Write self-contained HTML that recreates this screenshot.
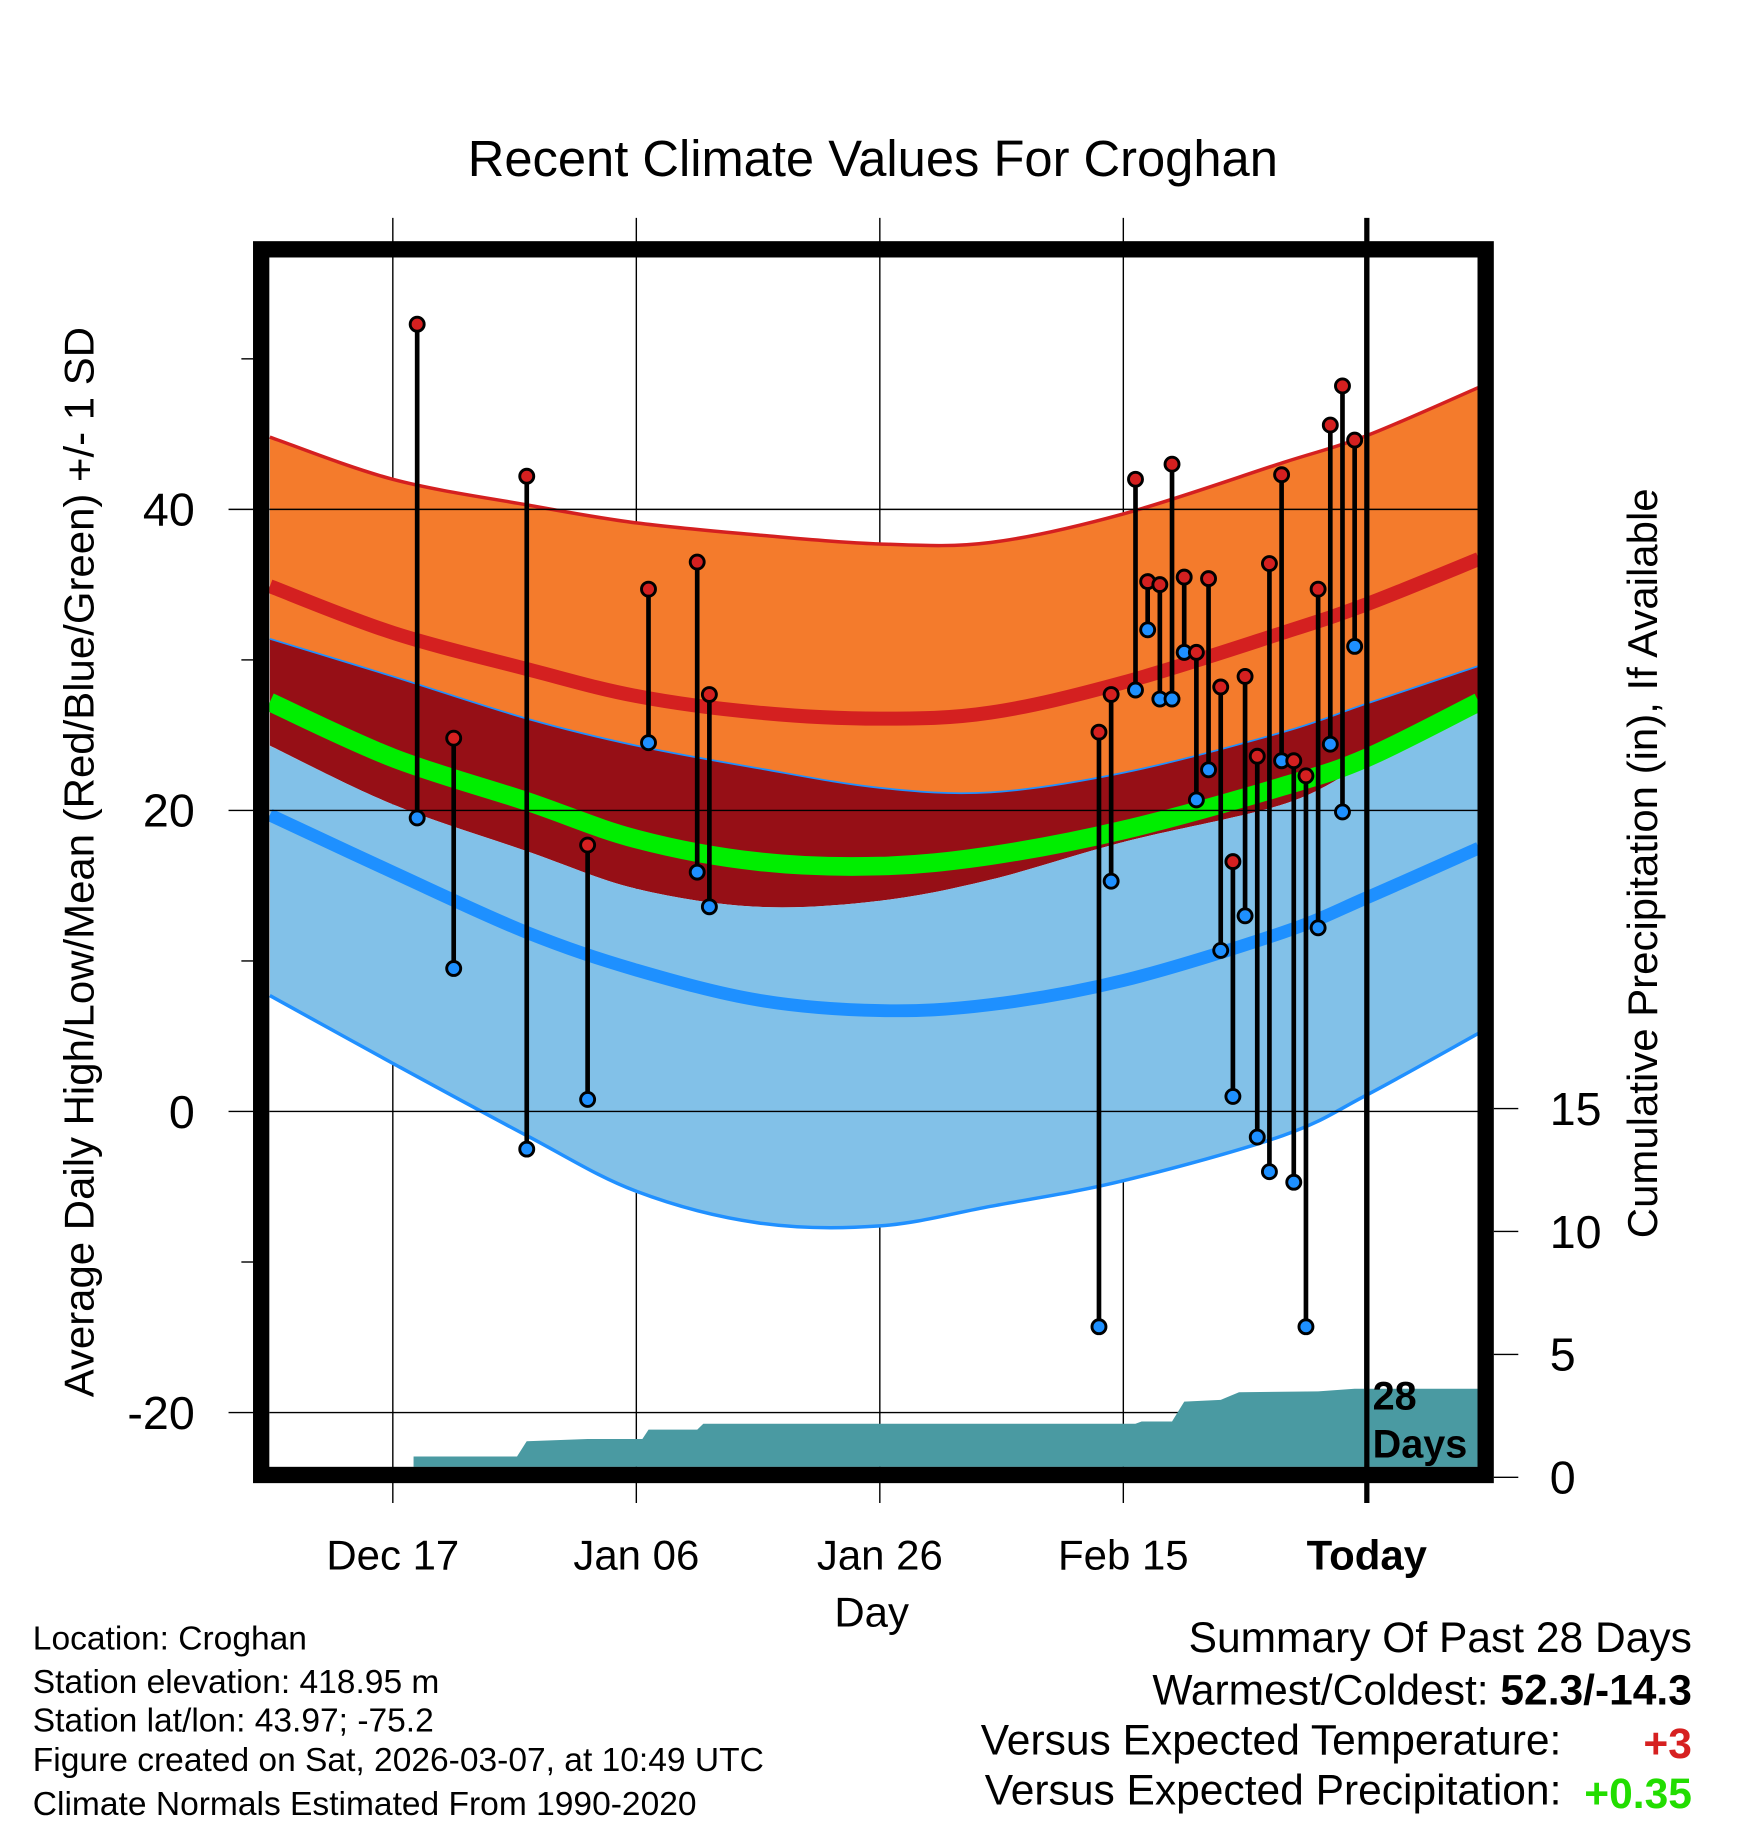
<!DOCTYPE html>
<html><head><meta charset="utf-8"><style>
html,body{margin:0;padding:0;background:#fff;}
svg{display:block;font-family:"Liberation Sans",sans-serif;}
</style></head><body>
<svg id="chart" width="1748" height="1828" viewBox="0 0 1500 1569" xmlns="http://www.w3.org/2000/svg">
<defs><clipPath id="plotclip"><rect x="231" y="221" width="1037" height="1038"/></clipPath></defs>
<text x="749" y="151" font-size="43.5" text-anchor="middle">Recent Climate Values For Croghan</text>
<g id="gridlayer"></g>
<g id="bandlayer" clip-path="url(#plotclip)"></g>
<g id="marklayer"></g>
<rect x="224" y="214" width="1051" height="1052" fill="none" stroke="#000" stroke-width="14"/>
<g id="axislayer"></g>
<text x="748" y="1396" font-size="36" text-anchor="middle">Day</text>
<text transform="translate(80,740) rotate(-90)" font-size="36" text-anchor="middle">Average Daily High/Low/Mean (Red/Blue/Green) +/- 1 SD</text>
<text transform="translate(1422,741) rotate(-90)" font-size="36" text-anchor="middle">Cumulative Precipitation (in), If Available</text>
<text x="1178" y="1210" font-size="34" font-weight="bold">28</text>
<text x="1178" y="1251" font-size="34" font-weight="bold">Days</text>
<g font-size="28.8">
<text x="28" y="1416">Location: Croghan</text>
<text x="28" y="1453">Station elevation: 418.95 m</text>
<text x="28" y="1486">Station lat/lon: 43.97; -75.2</text>
<text x="28" y="1520">Figure created on Sat, 2026-03-07, at 10:49 UTC</text>
<text x="28" y="1558">Climate Normals Estimated From 1990-2020</text>
</g>
<g font-size="36.5">
<text x="1452" y="1418" text-anchor="end">Summary Of Past 28 Days</text>
<text x="1452" y="1463" text-anchor="end">Warmest/Coldest: <tspan font-weight="bold">52.3/-14.3</tspan></text>
<text x="1340" y="1506" text-anchor="end">Versus Expected Temperature:</text>
<text x="1452" y="1509" text-anchor="end" font-weight="bold" fill="#d62020">+3</text>
<text x="1340" y="1549" text-anchor="end">Versus Expected Precipitation:</text>
<text x="1452" y="1552" text-anchor="end" font-weight="bold" fill="#22dd00">+0.35</text>
</g>
</svg>
<script>
// ---- data ----
const normDays = [-10.1, 0, 11, 20, 30, 40, 49.1, 60, 73.1, 80, 89.2];
const hiUpper = [44.8, 42.0, 40.3, 39.1, 38.3, 37.7, 37.8, 39.7, 43.1, 44.9, 48.1];
const hiMean  = [34.9, 31.8, 29.4, 27.6, 26.5, 26.1, 26.5, 28.5, 31.8, 33.7, 36.7];
const hiLower = [31.4, 28.9, 26.1, 24.3, 22.8, 21.5, 21.2, 22.5, 25.2, 27.1, 29.6];
const meanT   = [27.2, 23.5, 20.6, 18.1, 16.6, 16.3, 17.0, 18.7, 21.6, 23.5, 27.2];
const loUpper = [24.3, 20.4, 17.3, 14.8, 13.6, 14.0, 15.4, 17.9, 20.4, 23.1, 26.5];
const loMean  = [19.7, 15.9, 11.9, 9.4, 7.4, 6.7, 7.1, 8.7, 11.9, 14.2, 17.5];
const loLower = [7.7, 3.2, -1.6, -5.3, -7.4, -7.6, -6.3, -4.6, -1.6, 1.1, 5.2];
const obsDays = [2, 5, 11, 16, 21, 25, 26, 58, 59, 61, 62, 63, 64, 65, 66, 67, 68, 69, 70, 71, 72, 73, 74, 75, 76, 77, 78, 79];
const obsHigh = [52.3, 24.8, 42.2, 17.7, 34.7, 36.5, 27.7, 25.2, 27.7, 42.0, 35.2, 35.0, 43.0, 35.5, 30.5, 35.4, 28.2, 16.6, 28.9, 23.6, 36.4, 42.3, 23.3, 22.3, 34.7, 45.6, 48.2, 44.6];
const obsLow  = [19.5, 9.5, -2.5, 0.8, 24.5, 15.9, 13.6, -14.3, 15.3, 28.0, 32.0, 27.4, 27.4, 30.5, 20.7, 22.7, 10.7, 1.0, 13.0, -1.7, -4.0, 23.3, -4.7, -14.3, 12.2, 24.4, 19.9, 30.9];
const precipDays = [1.7, 10.2, 11, 16, 20.5, 21, 25, 25.5, 61, 61.5, 64, 65, 68, 69.5, 76, 79, 89.2];
const precipVals = [0.85, 0.85, 1.47, 1.56, 1.56, 1.94, 1.94, 2.18, 2.18, 2.27, 2.27, 3.08, 3.15, 3.46, 3.5, 3.6, 3.6];
const xTickDays = [0, 20, 40, 60, 80];
const xTickLabels = ["Dec 17", "Jan 06", "Jan 26", "Feb 15", "Today"];
const yTicks = [40, 20, 0, -20];
const yMinor = [50, 30, 10, -10];
const y2Ticks = [0, 5, 10, 15];
const todayDay = 80;

// ---- scales ----
const X = d => 337 + 10.45 * d;
const Y = t => 954 - 12.92 * t;
const Y2 = p => 1268 - 21.1 * p;
const NS = "http://www.w3.org/2000/svg";
function mk(tag, parent, attrs) {
  const e = document.createElementNS(NS, tag);
  for (const k in attrs) e.setAttribute(k, attrs[k]);
  parent.appendChild(e); return e;
}
const grid = document.getElementById('gridlayer');
const bands = document.getElementById('bandlayer');
const marks = document.getElementById('marklayer');
const axis = document.getElementById('axislayer');

function pts(arr) { return normDays.map((d, i) => [X(d), Y(arr[i])]); }
// Catmull-Rom smooth path segment (without initial M)
function smooth(p) {
  let s = '';
  for (let i = 0; i < p.length - 1; i++) {
    const p0 = p[Math.max(0, i - 1)], p1 = p[i], p2 = p[i + 1], p3 = p[Math.min(p.length - 1, i + 2)];
    const c1 = [p1[0] + (p2[0] - p0[0]) / 6, p1[1] + (p2[1] - p0[1]) / 6];
    const c2 = [p2[0] - (p3[0] - p1[0]) / 6, p2[1] - (p3[1] - p1[1]) / 6];
    s += ' C' + c1[0].toFixed(1) + ',' + c1[1].toFixed(1) + ' ' + c2[0].toFixed(1) + ',' + c2[1].toFixed(1) + ' ' + p2[0].toFixed(1) + ',' + p2[1].toFixed(1);
  }
  return s;
}
function band(top, bot, fill, name) {
  const a = pts(top), b = pts(bot).reverse();
  const d = 'M' + a[0][0] + ',' + a[0][1] + smooth(a) + ' L' + b[0][0] + ',' + b[0][1] + smooth(b) + ' Z';
  const e = mk('path', bands, {d: d, fill: fill});
  
  
}
function line(arr, stroke, w, name) {
  const a = pts(arr);
  const e = mk('path', bands, {d: 'M' + a[0][0] + ',' + a[0][1] + smooth(a), fill: 'none', stroke: stroke, 'stroke-width': w});
  
  
}
band(hiUpper, hiLower, '#f47b2c', 'high-sd-band');
band(hiLower, loUpper, '#960f16', 'mid-band');
band(loUpper, loLower, '#82c1e8', 'low-sd-band');
line(hiUpper, '#d42020', 3, 'high-upper-line');
line(hiLower, '#2090ff', 1.5, 'high-lower-line');
line(loLower, '#2090ff', 3, 'low-lower-line');
line(hiMean, '#d42020', 12, 'mean-high-line');
line(meanT, '#00ee00', 16, 'mean-line');
line(loMean, '#1e90ff', 11, 'mean-low-line');

yTicks.forEach(t => {
  const e = mk('line', bands, {x1: 231, x2: 1268, y1: Y(t), y2: Y(t), stroke: '#000', 'stroke-width': 1.2});
  
  
});

{
  let d = 'M' + X(precipDays[0]) + ',1270';
  precipDays.forEach((dd, i) => { d += ' L' + X(dd).toFixed(1) + ',' + Y2(precipVals[i]).toFixed(1); });
  d += ' L' + X(precipDays[precipDays.length - 1]).toFixed(1) + ',1270 Z';
  const e = mk('path', bands, {d: d, fill: '#4a9aa2'});
  
  
}

xTickDays.forEach((d, i) => {
  const isToday = d === todayDay;
  const e = mk('line', grid, {x1: X(d), x2: X(d), y1: 187, y2: 1290, stroke: '#000', 'stroke-width': isToday ? 4.5 : 1.2});
  
  
  const t = mk('text', axis, {x: X(d), y: 1347, 'font-size': 36, 'text-anchor': 'middle', 'font-weight': isToday ? 'bold' : 'normal'});
  t.textContent = xTickLabels[i];
  
  
});
{
  const e = mk('line', marks, {x1: X(todayDay), x2: X(todayDay), y1: 214, y2: 1266, stroke: '#000', 'stroke-width': 4.5});
  
  
}

yTicks.forEach(t => {
  const e = mk('line', axis, {x1: 196, x2: 217, y1: Y(t), y2: Y(t), stroke: '#000', 'stroke-width': 1.2});
  
  
  const l = mk('text', axis, {x: 167, y: Y(t) + 14, 'font-size': 40, 'text-anchor': 'end'});
  l.textContent = t;
  
  
});
yMinor.forEach(t => {
  const e = mk('line', axis, {x1: 207, x2: 217, y1: Y(t), y2: Y(t), stroke: '#000', 'stroke-width': 1.2});
  
  
});
y2Ticks.forEach(p => {
  const e = mk('line', axis, {x1: 1282, x2: 1303, y1: Y2(p), y2: Y2(p), stroke: '#000', 'stroke-width': 1.2});
  
  
  const l = mk('text', axis, {x: 1330, y: Y2(p) + 14, 'font-size': 40});
  l.textContent = p;
  
  
});

obsDays.forEach((d, i) => {
  const x = X(d);
  const s = mk('line', marks, {x1: x, x2: x, y1: Y(obsHigh[i]), y2: Y(obsLow[i]), stroke: '#000', 'stroke-width': 4});
  
  
  const h = mk('circle', marks, {cx: x, cy: Y(obsHigh[i]), r: 6, fill: '#d42020', stroke: '#000', 'stroke-width': 2.5});
  
  
  const lo = mk('circle', marks, {cx: x, cy: Y(obsLow[i]), r: 6, fill: '#1e90ff', stroke: '#000', 'stroke-width': 2.5});
  
  
});
</script>
</body></html>
